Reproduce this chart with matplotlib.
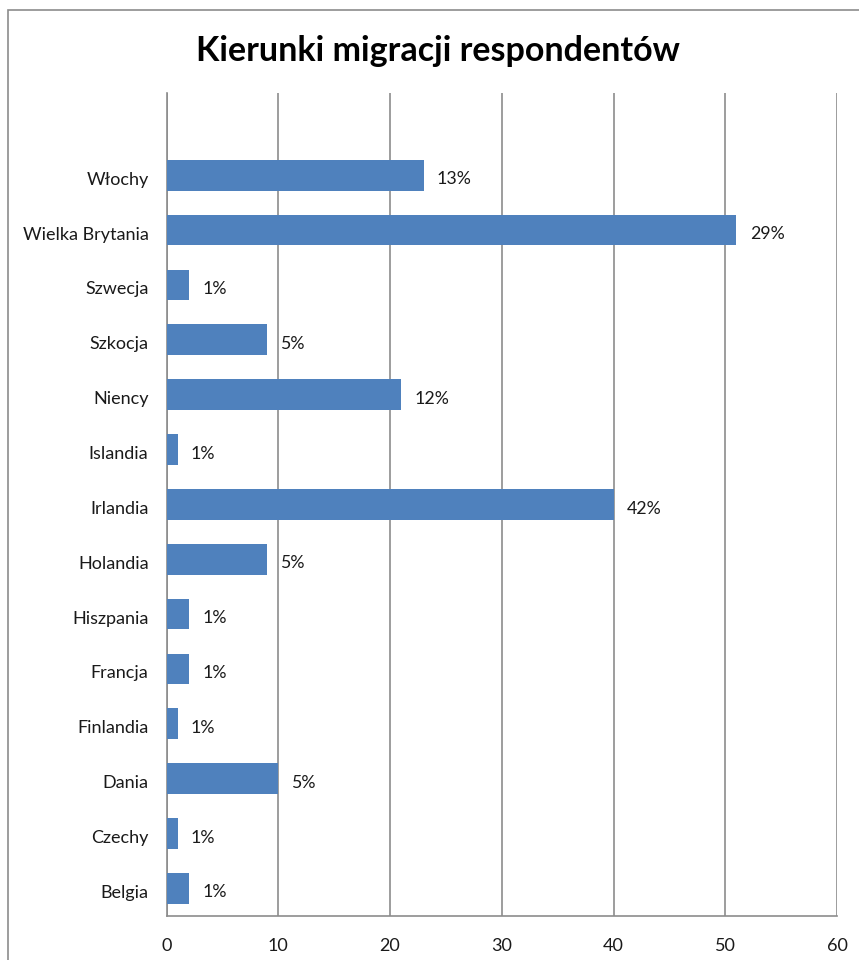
import matplotlib
matplotlib.use("Agg")
import matplotlib.pyplot as plt
from matplotlib.patches import Rectangle
from matplotlib.transforms import ScaledTranslation

# Countries listed bottom-to-top, as drawn on the y axis
countries = ["Belgia", "Czechy", "Dania", "Finlandia", "Francja", "Hiszpania",
             "Holandia", "Irlandia", "Islandia", "Niency", "Szkocja", "Szwecja",
             "Wielka Brytania", "Włochy"]
counts = [2, 1, 10, 1, 2, 2, 9, 40, 1, 21, 9, 2, 51, 23]
pct_labels = ["1%", "1%", "5%", "1%", "1%", "1%", "5%", "42%", "1%", "12%",
              "5%", "1%", "29%", "13%"]
x_ticks = [0, 10, 20, 30, 40, 50, 60]

plt.rcParams['font.family'] = ['Lato', 'DejaVu Sans']

W, H = 859, 960
fig = plt.figure(figsize=(W / 100, H / 100), dpi=100)

# outer chart frame
fig.patches.append(Rectangle((8 / W, -0.1), 1.2, (H - 10) / H + 0.1,
                             transform=fig.transFigure, fill=False,
                             edgecolor="#8c8c8c", linewidth=1.2))

ax = fig.add_axes([166.5 / W, (H - 915.7) / H, (837 - 166.5) / W, (915.7 - 93) / H])

ypos = list(range(len(countries)))
bars = ax.barh(ypos, counts, height=0.56, color="#4F81BD", zorder=3)

for b, lab in zip(bars, pct_labels):
    ax.annotate(lab, (b.get_width(), b.get_y() + b.get_height() / 2),
                xytext=(9.5, -3), textcoords="offset points",
                ha="left", va="center", fontsize=12.8, color="#1a1a1a")

ax.set_xlim(0, 60)
ax.set_ylim(-0.5, len(countries) + 0.5)
ax.set_xticks(x_ticks)
ax.set_xticklabels([str(t) for t in x_ticks], fontsize=13)
ax.set_yticks(ypos)
ax.set_yticklabels([])

# category names, a touch below each bar's centre line
name_tr = ax.get_yaxis_transform() + ScaledTranslation(-18 / 100, -4.5 / 100,
                                                        fig.dpi_scale_trans)
for y, name in zip(ypos, countries):
    ax.text(0, y, name, transform=name_tr, ha="right", va="center",
            fontsize=13, color="#1a1a1a")

ax.tick_params(axis="both", length=0, colors="#1a1a1a")
ax.tick_params(axis="x", pad=16)

ax.xaxis.grid(True, color="#8c8c8c", linewidth=1.2, zorder=0)
for s in ["top", "right"]:
    ax.spines[s].set_visible(False)
for s in ["left", "bottom"]:
    ax.spines[s].set_color("#8c8c8c")
    ax.spines[s].set_linewidth(1.2)

fig.text(438 / W, 1 - 51 / H, "Kierunki migracji respondentów",
         ha="center", va="center", fontsize=24.5, fontweight="bold", color="black")

fig.savefig("out.png", dpi=100, facecolor="white")
